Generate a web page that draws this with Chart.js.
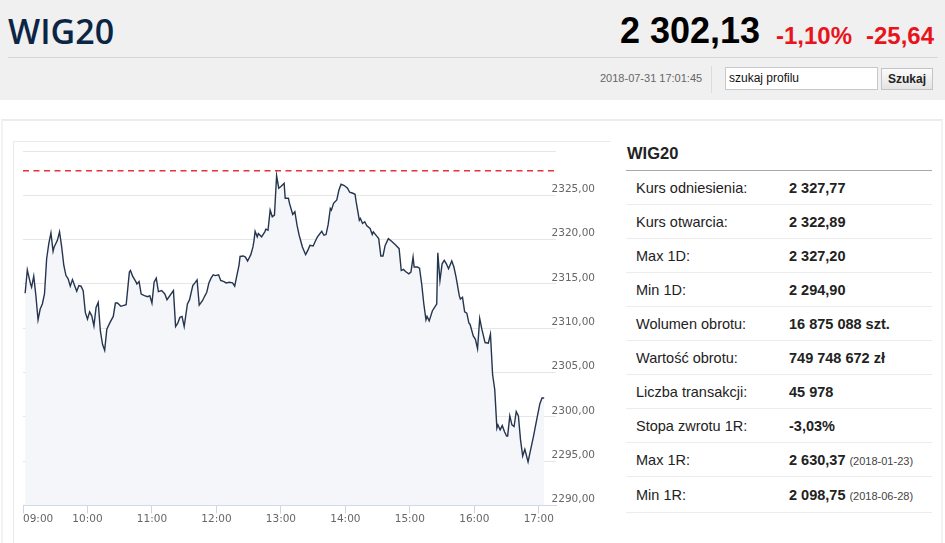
<!DOCTYPE html>
<html lang="pl">
<head>
<meta charset="utf-8">
<title>WIG20</title>
<script src="https://cdn.jsdelivr.net/npm/chart.js@4.4.0/dist/chart.umd.min.js"></script>
<style>
    html, body { margin: 0; padding: 0; }
    body { width: 945px; height: 543px; overflow: hidden; position: relative; background: #fff; font-family: 'Liberation Sans', Arial, sans-serif; }
    .abs { position: absolute; }
    .top { left: 0; top: 0; width: 945px; height: 100px; background: #f0f0f0; }
    .title { left: 8px; top: 14px; font: 600 34px/34px 'Open Sans', sans-serif; color: #0b2545; }
    .price { left: 620px; top: 13px; font: bold 36px/36px 'Liberation Sans', Arial, sans-serif; color: #000; }
    .chg { top: 24px; font: bold 24px/24px 'Liberation Sans', Arial, sans-serif; color: #e8141c; }
    .sep { left: 8px; top: 57px; width: 930px; height: 1px; background: #d6d6d6; }
    .stamp { left: 600px; top: 72px; font: 11px/12px 'Liberation Sans', Arial, sans-serif; color: #666; }
    .vsep { left: 711px; top: 66px; width: 1px; height: 27px; background: #dcdcdc; }
    .search { left: 725px; top: 67px; width: 148px; height: 21px; border: 1px solid #c8c8c8; background: #fff; padding-left: 3px; font: 12px/21px 'Liberation Sans', Arial, sans-serif; color: #111; }
    .btn { left: 881px; top: 68px; width: 50px; height: 20px; border: 1px solid #c4c4c4; background: linear-gradient(#fbfbfb, #e4e4e4); font: bold 12px/20px 'Liberation Sans', Arial, sans-serif; color: #222; text-align: center; }
    .panel { left: 1px; top: 119px; width: 938px; height: 440px; border-top: 2px solid #ececec; border-left: 2px solid #f2f2f2; border-right: 2px solid #f2f2f2; }
    .chartbox { left: 13px; top: 141px; width: 597px; height: 420px; border-top: 1px solid #ebebeb; border-left: 1px solid #ebebeb; }
    .chartwrap { left: 14px; top: 142px; width: 590px; height: 401px; }
    .boxtitle { left: 627px; top: 143px; font: bold 16.5px/20px 'Liberation Sans', Arial, sans-serif; color: #222; }
    .boxline { left: 626px; top: 170px; width: 306px; height: 1px; background: #a8a8a8; }
    .stats { left: 626px; top: 171px; width: 306px; }
    .row { display: flex; align-items: center; height: 33px; border-bottom: 1px solid #ececec; font-size: 14.5px; color: #222; }
    .row.last { height: 35px; }
    .row .k { width: 153px; padding-left: 10px; }
    .row .v { font-weight: bold; }
    .row .d { font-weight: normal; font-size: 11px; color: #444; margin-left: 4px; }
</style>
</head>
<body>
<div class="abs top"></div>
<div class="abs title">WIG20</div>
<div class="abs price">2 302,13</div>
<div class="abs chg" style="left:776px">-1,10%</div>
<div class="abs chg" style="left:866px">-25,64</div>
<div class="abs sep"></div>
<div class="abs stamp">2018-07-31 17:01:45</div>
<div class="abs vsep"></div>
<div class="abs search">szukaj profilu</div>
<div class="abs btn">Szukaj</div>

<div class="abs panel"></div>
<div class="abs chartbox"></div>
<div class="abs chartwrap"><canvas id="wig-chart"></canvas></div>

<div class="abs boxtitle">WIG20</div>
<div class="abs boxline"></div>
<div class="abs stats" id="stats"></div>

<script>
// intraday quotes
const times = [
    '09:02', '09:04', '09:07', '09:08', '09:10', '09:12', '09:14', '09:16', '09:18', '09:20',
    '09:22', '09:24', '09:26', '09:28', '09:29', '09:32', '09:34', '09:36', '09:38', '09:40',
    '09:42', '09:44', '09:46', '09:48', '09:50', '09:52', '09:54', '09:56', '09:58', '10:00',
    '10:02', '10:04', '10:06', '10:08', '10:10', '10:12', '10:14', '10:16', '10:18', '10:21',
    '10:24', '10:26', '10:28', '10:31', '10:36', '10:39', '10:40', '10:42', '10:45', '10:46',
    '10:48', '10:50', '10:53', '10:56', '10:58', '11:00', '11:02', '11:04', '11:06', '11:09',
    '11:12', '11:14', '11:20', '11:22', '11:24', '11:26', '11:28', '11:30', '11:33', '11:35',
    '11:38', '11:40', '11:42', '11:44', '11:47', '11:49', '11:51', '11:53', '11:55', '11:57',
    '11:59', '12:02', '12:04', '12:07', '12:09', '12:12', '12:15', '12:17', '12:19', '12:21',
    '12:22', '12:25', '12:27', '12:29', '12:32', '12:34', '12:35', '12:36', '12:38', '12:39',
    '12:42', '12:45', '12:46', '12:48', '12:50', '12:52', '12:54', '12:56', '12:58', '13:00',
    '13:03', '13:04', '13:07', '13:08', '13:11', '13:13', '13:15', '13:17', '13:20', '13:23',
    '13:25', '13:27', '13:30', '13:32', '13:34', '13:38', '13:40', '13:42', '13:44', '13:46',
    '13:47', '13:49', '13:52', '13:54', '13:56', '13:59', '14:02', '14:04', '14:07', '14:09',
    '14:10', '14:13', '14:14', '14:16', '14:18', '14:20', '14:23', '14:25', '14:26', '14:29',
    '14:31', '14:33', '14:35', '14:37', '14:40', '14:43', '14:47', '14:50', '14:52', '14:54',
    '14:56', '14:59', '15:01', '15:03', '15:04', '15:07', '15:09', '15:11', '15:13', '15:15',
    '15:16', '15:18', '15:21', '15:23', '15:25', '15:26', '15:28', '15:30', '15:32', '15:34',
    '15:36', '15:39', '15:41', '15:43', '15:46', '15:47', '15:49', '15:51', '15:53', '15:55',
    '15:56', '15:59', '16:01', '16:03', '16:05', '16:07', '16:10', '16:13', '16:15', '16:17',
    '16:19', '16:21', '16:22', '16:24', '16:26', '16:28', '16:30', '16:31', '16:33', '16:35',
    '16:37', '16:39', '16:41', '16:43', '16:45', '16:47', '16:50', '16:52', '16:55', '16:58',
    '17:01', '17:03', '17:05'
];
const quotes = [
    2313.94, 2316.59, 2315.00, 2314.63, 2315.88, 2313.67, 2310.94, 2312.16, 2312.73, 2313.86,
    2317.84, 2319.55, 2320.76, 2318.67, 2319.17, 2319.92, 2320.88, 2319.17, 2317.08, 2315.94,
    2315.57, 2314.74, 2315.49, 2314.81, 2314.17, 2314.81, 2314.74, 2314.24, 2311.78, 2311.02,
    2311.85, 2311.40, 2310.26, 2312.35, 2312.92, 2309.69, 2308.18, 2307.50, 2309.89, 2310.65,
    2311.33, 2312.84, 2312.84, 2312.47, 2312.65, 2316.33, 2316.51, 2315.88, 2315.26, 2315.00,
    2315.26, 2313.86, 2313.67, 2313.56, 2313.67, 2312.84, 2315.19, 2315.65, 2314.13, 2314.24,
    2313.86, 2313.22, 2314.24, 2310.19, 2310.57, 2311.22, 2311.33, 2310.19, 2312.73, 2313.22,
    2314.81, 2315.11, 2315.45, 2312.61, 2313.10, 2313.60, 2314.06, 2315.11, 2315.65, 2316.02,
    2315.94, 2316.02, 2315.38, 2315.26, 2315.11, 2315.19, 2315.11, 2314.74, 2315.94, 2317.08,
    2318.10, 2318.15, 2318.03, 2317.58, 2318.30, 2319.17, 2319.92, 2320.94, 2320.31, 2320.68,
    2320.31, 2320.88, 2321.17, 2321.06, 2323.33, 2322.58, 2322.76, 2327.20, 2325.80, 2325.99,
    2326.36, 2324.66, 2324.66, 2324.09, 2322.84, 2323.15, 2321.63, 2320.49, 2319.17, 2318.30,
    2318.78, 2319.35, 2319.28, 2319.81, 2320.31, 2320.94, 2320.49, 2320.57, 2321.71, 2323.52,
    2323.33, 2324.09, 2324.47, 2325.60, 2326.25, 2326.10, 2325.80, 2325.34, 2325.23, 2325.11,
    2324.28, 2322.19, 2322.39, 2321.82, 2322.01, 2321.56, 2321.25, 2320.57, 2320.88, 2320.42,
    2320.11, 2318.15, 2318.15, 2319.35, 2320.11, 2319.81, 2319.35, 2318.98, 2316.51, 2316.63,
    2316.40, 2316.14, 2316.33, 2318.03, 2316.90, 2316.90, 2316.78, 2315.00, 2312.73, 2310.94,
    2311.33, 2310.83, 2311.97, 2312.35, 2312.73, 2318.52, 2315.38, 2317.27, 2317.65, 2317.27,
    2316.71, 2317.58, 2316.90, 2315.76, 2313.67, 2313.30, 2313.49, 2311.85, 2311.70, 2310.57,
    2310.45, 2309.13, 2308.75, 2307.69, 2311.10, 2309.89, 2308.38, 2308.30, 2309.32, 2304.77,
    2303.07, 2298.72, 2299.09, 2298.52, 2299.01, 2298.33, 2297.84, 2297.84, 2300.11, 2299.09,
    2298.90, 2300.60, 2300.11, 2297.39, 2295.57, 2296.33, 2294.90, 2296.06, 2297.76, 2299.66,
    2301.48, 2302.13, 2302.13
];
const referencePrice = 2327.77;
const hourLabels = ['09:00', '10:00', '11:00', '12:00', '13:00', '14:00', '15:00', '16:00', '17:00'];
const priceTicks = [2290, 2295, 2300, 2305, 2310, 2315, 2320, 2325, 2330];
const sessionStart = '09:00';
const sessionEnd = '17:16';

const statLabels = ['Kurs odniesienia:', 'Kurs otwarcia:', 'Max 1D:', 'Min 1D:', 'Wolumen obrotu:',
    'Wartość obrotu:', 'Liczba transakcji:', 'Stopa zwrotu 1R:', 'Max 1R:', 'Min 1R:'];
const statValues = ['2 327,77', '2 322,89', '2 327,20', '2 294,90', '16 875 088 szt.',
    '749 748 672 zł', '45 978', '-3,03%', '2 630,37', '2 098,75'];
const statDates = ['', '', '', '', '', '', '', '', '(2018-01-23)', '(2018-06-28)'];

document.addEventListener('DOMContentLoaded', () => {
    const statsBox = document.getElementById('stats');
    statLabels.forEach((label, i) => {
        const row = document.createElement('div');
        row.className = 'row' + (i === statLabels.length - 1 ? ' last' : '');
        const k = document.createElement('div');
        k.className = 'k';
        k.textContent = label;
        const v = document.createElement('div');
        v.className = 'v';
        v.textContent = statValues[i];
        if (statDates[i]) {
            const d = document.createElement('span');
            d.className = 'd';
            d.textContent = statDates[i];
            v.appendChild(d);
        }
        row.appendChild(k);
        row.appendChild(v);
        statsBox.appendChild(row);
    });

    const toMinutes = t => {
        const [h, m] = t.split(':').map(Number);
        return h * 60 + m;
    };
    const fmtTime = v => String(Math.floor(v / 60)).padStart(2, '0') + ':' + String(v % 60).padStart(2, '0');

    const xMin = toMinutes(sessionStart);
    const xMax = toMinutes(sessionEnd);
    const hourTicks = hourLabels.map(toMinutes);

    const lineData = times.map((t, i) => ({ x: toMinutes(t), y: quotes[i] }));

    const ctx = document.getElementById('wig-chart').getContext('2d');
    new Chart(ctx, {
        type: 'line',
        data: {
            datasets: [
                {
                    label: 'WIG20',
                    data: lineData,
                    borderColor: '#25354f',
                    borderWidth: 1.4,
                    backgroundColor: '#f4f6f9',
                    fill: 'start',
                    pointRadius: 0,
                    tension: 0
                },
                {
                    label: 'Kurs odniesienia',
                    data: [{ x: xMin, y: referencePrice }, { x: xMax, y: referencePrice }],
                    borderColor: '#e8313a',
                    borderWidth: 1.5,
                    borderDash: [6, 4.5],
                    fill: false,
                    pointRadius: 0
                }
            ]
        },
        options: {
            responsive: true,
            maintainAspectRatio: false,
            animation: false,
            layout: {
                padding: { left: 9, top: 9, right: 8, bottom: 17 }
            },
            plugins: {
                legend: { display: false },
                tooltip: { enabled: false }
            },
            scales: {
                x: {
                    type: 'linear',
                    min: xMin,
                    max: xMax,
                    afterBuildTicks: axis => {
                        axis.ticks = hourTicks.concat([xMax]).map(v => ({ value: v }));
                    },
                    grid: {
                        drawOnChartArea: false,
                        drawTicks: true,
                        tickLength: 8,
                        tickColor: c => (c.tick && c.tick.value === xMax ? 'rgba(0,0,0,0)' : '#ccd6eb')
                    },
                    border: { display: true, color: '#ccd6eb', width: 1 },
                    ticks: {
                        autoSkip: false,
                        maxRotation: 0,
                        align: 'inner',
                        padding: 0,
                        color: '#666',
                        font: { family: "'DejaVu Sans', sans-serif", size: 10.5 },
                        callback: v => (v === xMax ? '' : fmtTime(v))
                    }
                },
                y: {
                    position: 'right',
                    min: priceTicks[0],
                    max: priceTicks[priceTicks.length - 1],
                    afterBuildTicks: axis => {
                        axis.ticks = priceTicks.map(v => ({ value: v }));
                    },
                    // labels sit a little over the end of the grid lines, so keep them unclipped
                    afterFit: axis => {
                        axis.width = 40;
                        axis.paddingTop = 6;
                        axis.paddingBottom = 6;
                    },
                    grid: {
                        color: '#e6e6e6',
                        drawTicks: false
                    },
                    border: { display: false },
                    ticks: {
                        mirror: true,
                        crossAlign: 'near',
                        padding: 39,
                        labelOffset: -6,
                        color: '#666',
                        font: { family: "'DejaVu Sans', sans-serif", size: 10.5 },
                        callback: v => (v === priceTicks[priceTicks.length - 1] ? '' : v.toFixed(2).replace('.', ','))
                    }
                }
            }
        }
    });
});
</script>
</body>
</html>
